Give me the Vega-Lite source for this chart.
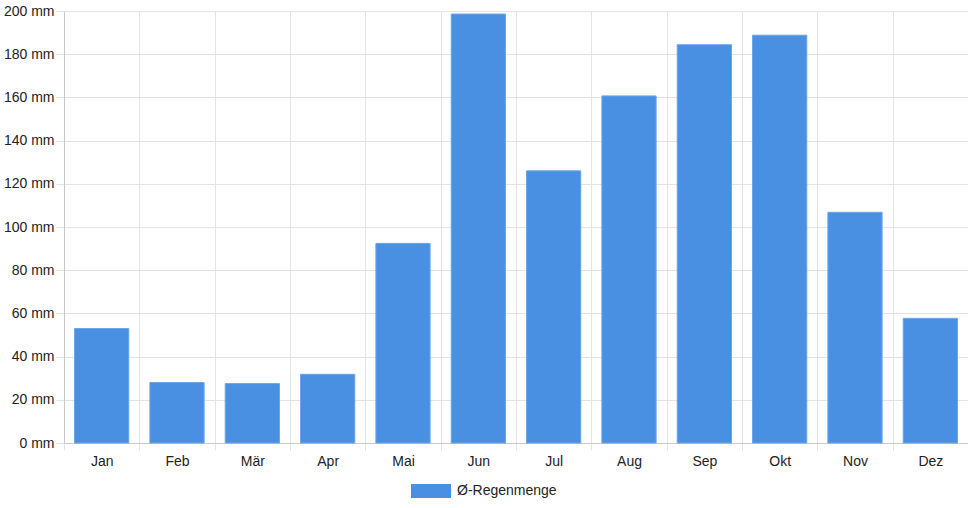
{
  "$schema": "https://vega.github.io/schema/vega-lite/v6.json",
  "width": 904,
  "height": 432,
  "autosize": {"type": "none"},
  "padding": {"left": 64, "top": 11, "right": 0, "bottom": 65},
  "background": "white",
  "config": {
    "view": {"stroke": null},
    "font": "Liberation Sans",
    "axis": {"labelFont": "Liberation Sans", "labelFontSize": 14, "labelColor": "#222", "gridColor": "#e3e3e3", "domainColor": "#c8c8c8", "tickColor": "#e3e3e3"}
  },
  "data": {
    "values": [
      {"monat": "Jan", "mm": 53.0, "serie": "Ø-Regenmenge"},
      {"monat": "Feb", "mm": 28.0, "serie": "Ø-Regenmenge"},
      {"monat": "Mär", "mm": 27.5, "serie": "Ø-Regenmenge"},
      {"monat": "Apr", "mm": 31.8, "serie": "Ø-Regenmenge"},
      {"monat": "Mai", "mm": 92.4, "serie": "Ø-Regenmenge"},
      {"monat": "Jun", "mm": 198.6, "serie": "Ø-Regenmenge"},
      {"monat": "Jul", "mm": 126.0, "serie": "Ø-Regenmenge"},
      {"monat": "Aug", "mm": 160.7, "serie": "Ø-Regenmenge"},
      {"monat": "Sep", "mm": 184.4, "serie": "Ø-Regenmenge"},
      {"monat": "Okt", "mm": 188.8, "serie": "Ø-Regenmenge"},
      {"monat": "Nov", "mm": 106.8, "serie": "Ø-Regenmenge"},
      {"monat": "Dez", "mm": 57.7, "serie": "Ø-Regenmenge"}
    ]
  },
  "mark": {"type": "bar", "stroke": "#6aa6ea", "strokeWidth": 1, "width": {"band": 0.72}},
  "encoding": {
    "x": {
      "field": "monat", "type": "nominal", "sort": null, "title": null,
      "scale": {"paddingInner": 0, "paddingOuter": 0},
      "axis": {"labelAngle": 0, "tickBand": "extent", "grid": true, "tickSize": 7, "labelPadding": 4, "domain": true}
    },
    "y": {
      "field": "mm", "type": "quantitative", "title": null,
      "scale": {"domain": [0, 200], "nice": false},
      "axis": {"values": [0, 20, 40, 60, 80, 100, 120, 140, 160, 180, 200], "labelExpr": "datum.value + ' mm'", "tickSize": 8, "labelPadding": 2, "grid": true}
    },
    "color": {
      "field": "serie", "type": "nominal", "title": null,
      "scale": {"range": ["#4a90e2"]},
      "legend": {
        "orient": "none", "legendX": 347, "legendY": 460,
        "symbolType": "M-1,-0.35H1V0.35H-1Z", "symbolSize": 1600, "symbolStrokeWidth": 0,
        "labelFontSize": 14, "labelFont": "Liberation Sans", "labelColor": "#222", "labelOffset": 6
      }
    }
  }
}
